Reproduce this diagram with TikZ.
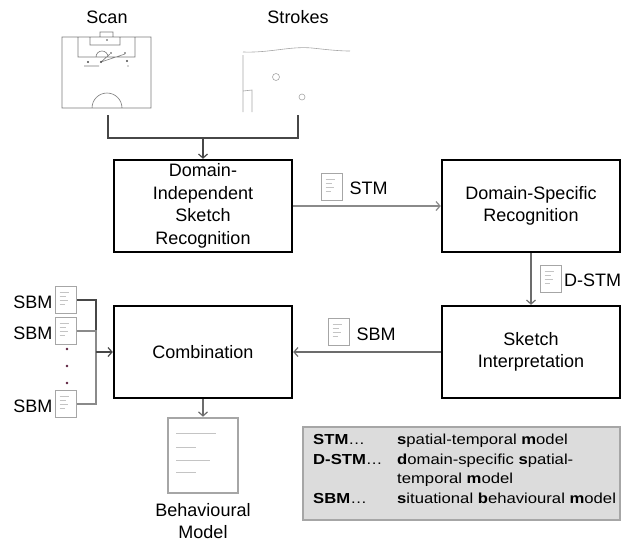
\documentclass[tikz,border=0pt]{standalone}
\usepackage{fontspec}
\setmainfont{Liberation Sans}
\newfontfamily\legendfont[FakeStretch=1.15]{Liberation Sans}
\usetikzlibrary{arrows.meta}
\definecolor{docgray}{HTML}{A6A6A6}
\definecolor{docline}{HTML}{C4C4C4}
\definecolor{wiregray}{HTML}{8A8A8A}
\definecolor{wiredark}{HTML}{474747}
\definecolor{sketchgray}{HTML}{7A7A7A}
\definecolor{legendfill}{HTML}{DCDCDC}
\definecolor{dotred}{HTML}{5A1E3C}
\tikzset{
  stage/.style={draw, line width=2.4pt, minimum width=178pt, minimum height=92pt,
                align=center, inner sep=0pt},
  docicon/.style={draw=docgray, line width=1.8pt, minimum width=21pt, minimum height=27pt,
                  inner sep=0pt, path picture={
      \foreach \dy/\len in {6/9,10/6,14/8,18/5}
        \draw[docline, line width=0.9pt] ([xshift=4pt,yshift=-\dy pt]path picture bounding box.north west) -- ++(\len pt,0pt);}},
  wire/.style={draw=wiregray, line width=1.2pt},
  darkwire/.style={draw=wiredark, line width=1.2pt},
  sketch/.style={draw=sketchgray, line width=0.6pt},
}

\begin{document}
\begin{tikzpicture}[x=1pt,y=-1pt, >={Straight Barb[length=4pt,width=9pt]},
                    font=\fontsize{18}{22.5}\selectfont]
\useasboundingbox (0,0) rectangle (622,542);
\def\dotr{1.3}
  % inputs
  \node (scan) at (107,17) {Scan};
  \node (strokes) at (298,17) {Strokes};
  % scanned pitch
  \draw[sketch] (62,37) rectangle (151,108)
        (100,32) rectangle (113,37)
        (90,37) rectangle (120,45)
        (78,37) rectangle (135,57)
        (92,108) arc (180:360:15)
        (96,57) arc (180:360:6)
        (101,62) -- (110,54)
        (101,62) -- (125,54)
        (84,66) -- (99,66);
  \fill[sketchgray!60!black] (107,40) circle (0.9) (88,62) circle (1.1) (101,62) circle (1.1)
        (111,53) circle (0.9) (125,53) circle (0.9) (127,61) circle (1.1) (128,66) circle (0.7);
  % strokes
  \draw[sketch, draw=docgray] (243,52) .. controls (270,53) and (290,46) .. (312,48)
        .. controls (330,50) and (340,51) .. (350,51)
        (243,55) -- (243,112)
        (243,91) -- (252,90) -- (252,112)
        (276,77) circle (3.5)
        (302,97) circle (3);
  \coordinate (scanout) at (108,115);
  \coordinate (strokesout) at (298,115);
  \coordinate (join) at (203,138);
  % stages
  \node[stage] (disr) at (203,206) {Domain-\\Independent\\Sketch\\Recognition};
  \node[stage] (dsr) at (531,206) {Domain-Specific\\Recognition};
  \node[stage] (si) at (531,352) {Sketch\\Interpretation};
  \node[stage] (comb) at (203,352) {Combination};
  \draw[darkwire] (scanout) |- (join) -| (strokesout);
  \draw[darkwire,->] (join) -- (disr.north);
  \draw[wire,->] (disr.east) -- (dsr.west);
  \draw[wire,draw=wiredark!80,->] (dsr.south) -- (si.north);
  \draw[wire,draw=wiredark!80,->] (si.west) -- (comb.east);
  % models passed along
  \node[docicon] (stmdoc) at (332,187) {};
  \node[anchor=west] (stm) at (346,188) {STM};
  \node[docicon] (dstmdoc) at (551,279) {};
  \node[anchor=west, inner sep=0pt] (dstm) at (564,280) {D-STM};
  \node[docicon] (sbmdoc) at (339,332) {};
  \node[anchor=west] (sbm) at (353,334) {SBM};
  % situational models merged
  \node[docicon] (sbmA) at (66,300) {};
  \node[docicon] (sbmB) at (66,331) {};
  \node[docicon] (sbmC) at (66,404) {};
  \foreach \s in {sbmA,sbmB,sbmC}
    \node[anchor=east, inner sep=2pt] at ([yshift=-2pt]\s.west) {SBM};
  \fill[dotred] (67,349) circle (\dotr) (67,366) circle (\dotr) (67,383) circle (\dotr);
  \coordinate (merge) at (96,352);
  \draw[darkwire] (sbmA.east) -| (merge);
  \draw[wire] (sbmB.east) -| (merge);
  \draw[wire] (sbmC.east) -| (merge);
  \draw[darkwire,->] (merge) -- (comb.west);
  % result
  \node[draw=docgray, line width=2.6pt, minimum width=70pt, minimum height=75pt] (bmdoc) at (203,455.5) {};
  \draw[docline, line width=1pt] (176,433) -- (216,433) (176,447) -- (196,447)
        (176,460) -- (210,460) (176,472) -- (196,472);
  \draw[wire,draw=wiredark!80,->] (comb.south) -- (bmdoc.north);
  \node[align=center] (bm) at (203,521) {Behavioural\\Model};
  % legend
  \node[draw=docgray, fill=legendfill, line width=2pt, minimum width=317pt, minimum height=93pt] (legend) at (461.5,473.5) {};
  \node[anchor=west, inner sep=0pt, font=\legendfont\fontsize{14.5}{19.5}\selectfont] (legendtext) at (313,470) {%
    \begin{tabular}{@{}p{84pt}@{}l@{}}
      \textbf{STM}\ldots   & \textbf{s}patial-temporal \textbf{m}odel\\
      \textbf{D-STM}\ldots & \textbf{d}omain-specific \textbf{s}patial-\\
                           & temporal \textbf{m}odel\\
      \textbf{SBM}\ldots   & \textbf{s}ituational \textbf{b}ehavioural \textbf{m}odel
    \end{tabular}};
\end{tikzpicture}
\end{document}
